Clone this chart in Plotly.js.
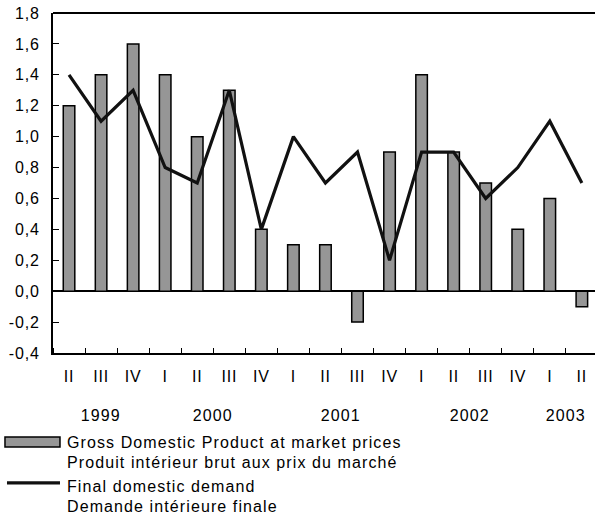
<!DOCTYPE html>
<html>
<head>
<meta charset="utf-8">
<script src="https://cdn.plot.ly/plotly-3.0.1.min.js"></script>
<style>
html,body{margin:0;padding:0;background:#fff;}
#chart{width:595px;height:522px;}
#chart .annotation-text{letter-spacing:1.1px;}
#chart .ytick text, #chart .xtick text{letter-spacing:0.8px;}
</style>
</head>
<body>
<div id="chart"></div>
<script>
// Quarters from 1999 Q2 to 2003 Q2
const quarters = ['II','III','IV','I','II','III','IV','I','II','III','IV','I','II','III','IV','I','II'];
const years = ['1999','2000','2001','2002','2003'];
// Gross Domestic Product at market prices (%)
const gdp = [1.2, 1.4, 1.6, 1.4, 1.0, 1.3, 0.4, 0.3, 0.3, -0.2, 0.9, 1.4, 0.9, 0.7, 0.4, 0.6, -0.1];
// Final domestic demand (%)
const fdd = [1.4, 1.1, 1.3, 0.8, 0.7, 1.3, 0.4, 1.0, 0.7, 0.9, 0.2, 0.9, 0.9, 0.6, 0.8, 1.1, 0.7];
const yTicks = [-0.4, -0.2, 0.0, 0.2, 0.4, 0.6, 0.8, 1.0, 1.2, 1.4, 1.6, 1.8];
const legendLines = [
  'Gross Domestic Product at market prices',
  'Produit intérieur brut aux prix du marché',
  'Final domestic demand',
  'Demande intérieure finale'
];

const xIdx = quarters.map((q, i) => i);

// year label positions: centre of each year's quarters
const yearPos = [];
let start = 0, yi = 0;
for (let i = 1; i <= quarters.length; i++) {
  if (i === quarters.length || quarters[i] === 'I') {
    yearPos.push({year: years[yi], x: (start + i - 1) / 2});
    yi++; start = i;
  }
}

const FONT = 'Liberation Sans, Arial, sans-serif';

const traces = [
  {
    type: 'bar', x: xIdx, y: gdp, width: 0.36,
    marker: {color: '#969696', line: {color: '#000', width: 1.5}},
    showlegend: false, hoverinfo: 'skip'
  },
  {
    type: 'scatter', mode: 'lines', x: xIdx, y: fdd,
    line: {color: '#111', width: 3.2},
    showlegend: false, hoverinfo: 'skip'
  }
];

const annotations = yearPos.map(p => ({
  x: p.x, y: -0.185, xref: 'x', yref: 'paper', text: p.year,
  showarrow: false, xanchor: 'center', yanchor: 'middle',
  font: {family: FONT, size: 16, color: '#000'}
}));
const legendY = [-0.2618, -0.3206, -0.394, -0.45];
legendLines.forEach((t, i) => annotations.push({
  x: 0.0221, y: legendY[i], xref: 'paper', yref: 'paper', text: t,
  showarrow: false, xanchor: 'left', yanchor: 'middle', align: 'left',
  font: {family: FONT, size: 16, color: '#000'}
}));

const shapes = [
  {type: 'line', xref: 'paper', yref: 'paper', x0: 0, x1: 1, y0: 1, y1: 1, line: {color: '#000', width: 2.2}},
  {type: 'rect', xref: 'paper', yref: 'paper', x0: -0.0886, x1: 0.0129, y0: -0.2765, y1: -0.247,
   fillcolor: '#969696', line: {color: '#000', width: 1.5}},
  {type: 'line', xref: 'paper', yref: 'paper', x0: -0.0849, x1: 0.0129, y0: -0.382, y1: -0.382,
   line: {color: '#111', width: 3.2}}
];

const layout = {
  width: 595, height: 522,
  margin: {l: 53, r: 0, t: 13, b: 169},
  paper_bgcolor: '#fff', plot_bgcolor: '#fff',
  font: {family: FONT, size: 16, color: '#000'},
  bargap: 0.6,
  xaxis: {
    range: [-0.5, 16.41],
    tickmode: 'array', tickvals: xIdx, ticktext: quarters,
    ticks: '', showgrid: false, zeroline: false,
    showline: true, linecolor: '#000', linewidth: 2.2,
    tickfont: {family: FONT, size: 16, color: '#000'},
    ticklabelstandoff: 8,
    minor: {tick0: 0.5, dtick: 1, ticks: 'inside', ticklen: 5, tickwidth: 1, tickcolor: '#000', showgrid: false}
  },
  yaxis: {
    range: [-0.4, 1.8],
    tickmode: 'array', tickvals: yTicks,
    ticktext: yTicks.map(v => v.toFixed(1).replace('.', ',')),
    ticks: 'inside', ticklen: 6, tickwidth: 1, tickcolor: '#000',
    showgrid: false, zeroline: true, zerolinecolor: '#000', zerolinewidth: 2.2,
    showline: true, linecolor: '#000', linewidth: 2.2,
    tickfont: {family: FONT, size: 16, color: '#000'},
    ticklabelstandoff: 8
  },
  annotations: annotations,
  shapes: shapes
};

Plotly.newPlot('chart', traces, layout, {staticPlot: true, displayModeBar: false});
</script>
</body>
</html>
